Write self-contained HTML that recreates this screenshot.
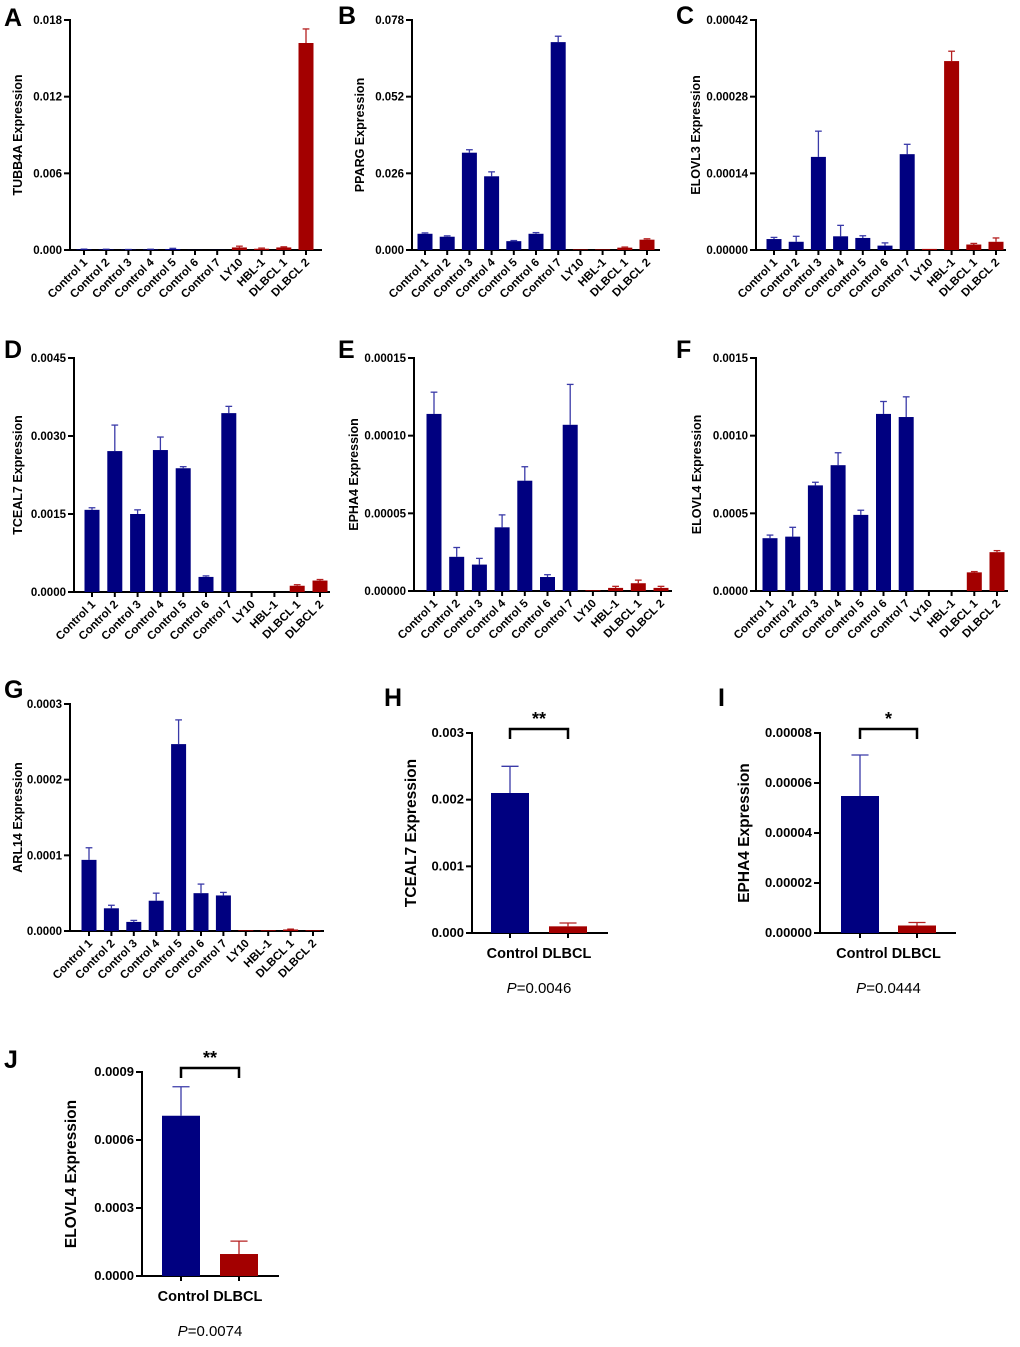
<!DOCTYPE html>
<html><head><meta charset="utf-8"><style>
body{margin:0;background:#fff}
svg{display:block;font-family:"Liberation Sans",Arial,sans-serif}
</style></head><body>
<svg id="fig" width="1020" height="1347" viewBox="0 0 1020 1347" xmlns="http://www.w3.org/2000/svg"></svg>
<script>
const cats11 = ["Control 1","Control 2","Control 3","Control 4","Control 5","Control 6","Control 7","LY10","HBL-1","DLBCL 1","DLBCL 2"];
const colors11 = ["b","b","b","b","b","b","b","r","r","r","r"];
const valsA = [0.00005,0.00004,0.00003,0.00004,0.00008,0.00001,0.00001,0.0002,0.0001,0.0002,0.0162];
const errsA = [0.00002,0.00002,0.00001,0.00002,0.00005,0,0,0.0001,0.00005,0.00005,0.0011];
const ticksA = ["0.000","0.006","0.012","0.018"];
const valsB = [0.0055,0.0045,0.033,0.025,0.003,0.0055,0.0705,0.0002,0.0002,0.0008,0.0035];
const errsB = [0.0003,0.0003,0.001,0.0015,0.0002,0.0004,0.002,0,0,0.0002,0.0003];
const ticksB = ["0.000","0.026","0.052","0.078"];
const valsC = [0.00002,0.000015,0.00017,0.000025,0.000022,0.000008,0.000175,0.000002,0.000345,0.00001,0.000015];
const errsC = [0.000003,0.00001,0.000047,0.00002,0.000004,0.000005,0.000018,0,0.000018,0.000002,0.000007];
const ticksC = ["0.00000","0.00014","0.00028","0.00042"];
const valsD = [0.00158,0.00271,0.0015,0.00273,0.00238,0.00029,0.00344,0,0,0.00012,0.00022];
const errsD = [0.00004,0.0005,0.00008,0.00025,0.00003,0.00002,0.00013,0,0,0.00002,0.00002];
const ticksD = ["0.0000","0.0015","0.0030","0.0045"];
const valsE = [0.000114,0.000022,0.000017,0.000041,0.000071,0.000009,0.000107,0.0000005,0.000002,0.000005,0.000002];
const errsE = [0.000014,0.000006,0.000004,0.000008,0.000009,0.0000015,0.000026,0,0.000001,0.000002,0.000001];
const ticksE = ["0.00000","0.00005","0.00010","0.00015"];
const valsF = [0.00034,0.00035,0.00068,0.00081,0.00049,0.00114,0.00112,0,0,0.00012,0.00025];
const errsF = [0.00002,0.00006,0.00002,0.00008,0.00003,0.00008,0.00013,0,0,0.000005,0.00001];
const ticksF = ["0.0000","0.0005","0.0010","0.0015"];
const valsG = [0.000094,0.00003,0.000012,0.00004,0.000247,0.00005,0.000047,0.000001,0.000001,0.000002,0.000001];
const errsG = [0.000016,0.000004,0.000002,0.00001,0.000032,0.000012,0.000004,0,0,0.0000005,0];
const ticksG = ["0.0000","0.0001","0.0002","0.0003"];
const cats2 = ["Control","DLBCL"];
const valsH = [0.0021,0.0001];
const errsH = [0.0004,0.00005];
const ticksH = ["0.000","0.001","0.002","0.003"];
const valsI = [0.0000548,0.000003];
const errsI = [0.0000164,0.0000012];
const ticksI = ["0.00000","0.00002","0.00004","0.00006","0.00008"];
const valsJ = [0.000707,0.000097];
const errsJ = [0.000128,0.000057];
const ticksJ = ["0.0000","0.0003","0.0006","0.0009"];

const svg = document.getElementById('fig');
const NS = "http://www.w3.org/2000/svg";
function mk(tag, at, parent, txt){const e=document.createElementNS(NS,tag);for(const k in at)e.setAttribute(k,at[k]);if(txt!==undefined)e.textContent=txt;(parent||svg).appendChild(e);return e;}
const COL={b:"#000080",r:"#a30000"};
const ECOL={b:"#3a3aa8",r:"#b52020"};

function panel(p){
  const g=mk('g',{});
  
  
  const n=p.vals.length;
  const max=parseFloat(p.ticks[p.ticks.length-1]);
  const y=v=>p.bottom-(v/max)*(p.bottom-p.top);
  const x=i=>p.x0+i*(p.x1-p.x0)/(n-1||1);
  // letter
  const L=mk('text',{x:p.lx,y:p.ly,'font-size':25,'font-weight':'bold',fill:'#000'},g,p.id);
  
  
  // axes
  const ya=mk('line',{x1:p.ax,y1:p.top-1,x2:p.ax,y2:p.bottom,stroke:'#000','stroke-width':2},g);
  
  
  const xa=mk('line',{x1:p.ax-1,y1:p.bottom,x2:p.xend,y2:p.bottom,stroke:'#000','stroke-width':2},g);
  
  
  p.ticks.forEach((t,i)=>{
    const v=max*i/(p.ticks.length-1);
    mk('line',{x1:p.ax-6,y1:y(v),x2:p.ax,y2:y(v),stroke:'#000','stroke-width':2},g);
    const tl=mk('text',{x:p.ax-8,y:y(v)+4,'font-size':p.tfs,'font-weight':'bold','text-anchor':'end'},g,t);
    
    
  });
  const yt=mk('text',{x:0,y:0,'font-size':p.yfs,'font-weight':'bold','text-anchor':'middle',transform:`translate(${p.ytx},${(p.top+p.bottom)/2}) rotate(-90)`},g,p.ytitle);
  
  
  p.vals.forEach((v,i)=>{
    const c=p.colors[i];
    const cx=x(i);
    const hw=p.bw/2;
    if(p.errs[i]>0){
      const e=mk('line',{x1:cx,y1:y(v),x2:cx,y2:y(v+p.errs[i]),stroke:ECOL[c],'stroke-width':1.3},g);
      
      
      mk('line',{x1:cx-hw*0.45,y1:y(v+p.errs[i]),x2:cx+hw*0.45,y2:y(v+p.errs[i]),stroke:ECOL[c],'stroke-width':1.3},g);
    }
    const h=Math.max(p.bottom-y(v),0);
    const r=mk('rect',{x:cx-hw,y:p.bottom-h,width:p.bw,height:h,fill:COL[c]},g);
    
    
    mk('line',{x1:cx,y1:p.bottom,x2:cx,y2:p.bottom+5,stroke:'#000','stroke-width':2},g);
    if(p.rot){
      const t=mk('text',{x:0,y:0,'font-size':11.5,'font-weight':'bold','text-anchor':'end',transform:`translate(${cx+4},${p.bottom+13}) rotate(-45)`},g,p.cats[i]);
      
      
    }
  });
  if(!p.rot){
    const t=mk('text',{x:(x(0)+x(1))/2,y:p.bottom+25,'font-size':14.5,'font-weight':'bold','text-anchor':'middle'},g,p.cats.join(' '));
    
    
    const by=p.top-4;
    const br=mk('path',{d:`M${x(0)},${by+10} V${by} H${x(1)} V${by+10}`,fill:'none',stroke:'#000','stroke-width':2.5},g);
    
    
    const st=mk('text',{x:(x(0)+x(1))/2,y:by-4,'font-size':18,'font-weight':'bold','text-anchor':'middle'},g,p.stars);
    
    
    const pv=mk('text',{x:(x(0)+x(1))/2,y:p.bottom+60,'font-size':15,'text-anchor':'middle'},g);
    
    
    mk('tspan',{'font-style':'italic'},pv,'P');
    mk('tspan',{},pv,'='+p.pval);
  }
}
const base={cats:cats11,colors:colors11,rot:true,bw:15,tfs:11.5,yfs:12.5};
panel({...base,id:'A',vals:valsA,errs:errsA,ticks:ticksA,ytitle:'TUBB4A Expression',lx:4,ly:26,ax:70,top:20,bottom:250,x0:84,x1:306,xend:322,ytx:22});
panel({...base,id:'B',vals:valsB,errs:errsB,ticks:ticksB,ytitle:'PPARG Expression',lx:338,ly:24,ax:412,top:20,bottom:250,x0:425,x1:647,xend:660,ytx:364});
panel({...base,id:'C',vals:valsC,errs:errsC,ticks:ticksC,ytitle:'ELOVL3 Expression',lx:676,ly:24,ax:756,top:20,bottom:250,x0:774,x1:996,xend:1006,ytx:700});
panel({...base,id:'D',vals:valsD,errs:errsD,ticks:ticksD,ytitle:'TCEAL7 Expression',lx:4,ly:358,ax:74,top:358,bottom:592,x0:92,x1:320,xend:330,ytx:22,bw:15});
panel({...base,id:'E',vals:valsE,errs:errsE,ticks:ticksE,ytitle:'EPHA4 Expression',lx:338,ly:358,ax:414,top:358,bottom:591,x0:434,x1:661,xend:672,ytx:358});
panel({...base,id:'F',vals:valsF,errs:errsF,ticks:ticksF,ytitle:'ELOVL4 Expression',lx:676,ly:358,ax:756,top:358,bottom:591,x0:770,x1:997,xend:1008,ytx:701});
panel({...base,id:'G',vals:valsG,errs:errsG,ticks:ticksG,ytitle:'ARL14 Expression',lx:4,ly:698,ax:70,top:704,bottom:931,x0:89,x1:313,xend:324,ytx:22});
const b2={cats:cats2,colors:["b","r"],rot:false,bw:38,tfs:13,yfs:15.5};
panel({...b2,id:'H',vals:valsH,errs:errsH,ticks:ticksH,ytitle:'TCEAL7 Expression',stars:'**',pval:'0.0046',lx:384,ly:706,ax:472,top:733,bottom:933,x0:510,x1:568,xend:608,ytx:416});
panel({...b2,id:'I',vals:valsI,errs:errsI,ticks:ticksI,ytitle:'EPHA4 Expression',stars:'*',pval:'0.0444',lx:718,ly:706,ax:820,top:733,bottom:933,x0:860,x1:917,xend:956,ytx:749});
panel({...b2,id:'J',vals:valsJ,errs:errsJ,ticks:ticksJ,ytitle:'ELOVL4 Expression',stars:'**',pval:'0.0074',lx:4,ly:1068,ax:142,top:1072,bottom:1276,x0:181,x1:239,xend:279,ytx:76});
</script>
</body></html>
